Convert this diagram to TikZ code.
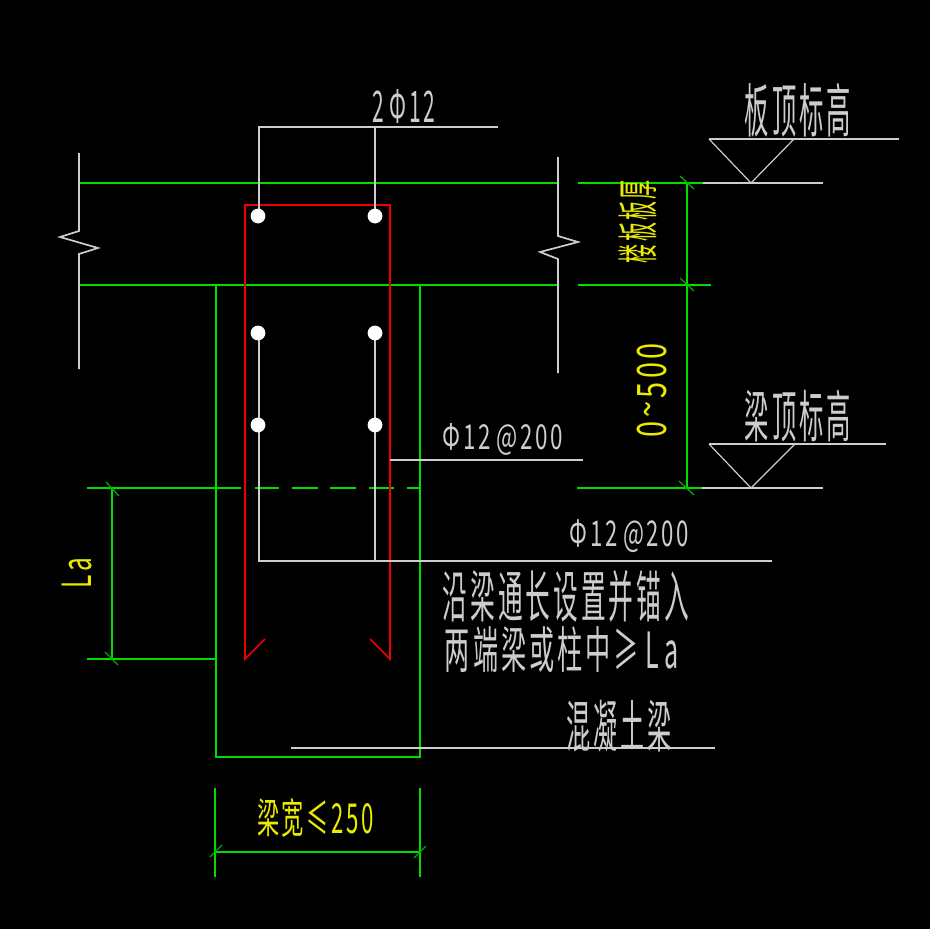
\documentclass[tikz,border=0pt]{standalone}
\usepackage{fontspec}
\usepackage{graphicx}
\setmainfont{Noto Sans CJK SC}
\definecolor{cadgreen}{RGB}{0,222,0}
\definecolor{cadtick}{RGB}{0,170,0}
\definecolor{cadred}{RGB}{240,0,0}
\definecolor{cadyellow}{RGB}{235,235,0}
\definecolor{cadwhite}{RGB}{205,205,205}
\newcommand{\fit}[3]{\resizebox*{#1pt}{#2pt}{#3}}
\newcommand{\gp}{\kern0.12em}
\tikzset{
  gline/.style={draw=cadgreen,line width=1.8pt},
  tickline/.style={draw=cadtick,line width=1.3pt},
  rline/.style={draw=cadred,line width=1.7pt},
  wline/.style={draw=cadwhite,line width=1.7pt},
  wthin/.style={draw=cadwhite,line width=1.2pt},
  bar/.style={fill=white,draw=none},
  wtext/.style={text=cadwhite,inner sep=0pt,outer sep=0pt},
  ytext/.style={text=cadyellow,inner sep=0pt,outer sep=0pt},
}
\begin{document}
\begin{tikzpicture}[x=1pt,y=-1pt]
\fill[black] (0,0) rectangle (930,929);
\useasboundingbox (0,0) rectangle (930,929);
% green lines
\draw[gline] (79,183) -- (558,183) (578,183) -- (703,183);
\draw[gline] (79,285) -- (558,285) (578,285) -- (711,285);
\draw[gline] (216,285) -- (216,757) -- (420,757) -- (420,285);
\draw[gline] (87,488) -- (241,488) (255,488) -- (279,488) (292,488) -- (318,488) (330,488) -- (356,488) (369,488) -- (394,488) (407,488) -- (420,488) (577,488) -- (702,488);
\draw[gline] (87,659) -- (216,659);
\draw[gline] (112,488) -- (112,659);
\draw[gline] (687,183) -- (687,488);
\draw[gline] (215,788) -- (215,877) (420,788) -- (420,877) (215,852) -- (420,852);
% ticks
\draw[tickline] (106,482) -- (119,496) (105,652) -- (118,665);
\draw[tickline] (680,176) -- (694,189) (680,278) -- (694,291) (679,481) -- (694,495);
\draw[tickline] (210,857) -- (222,845) (414,858) -- (426,846);
% red stirrup
\draw[rline] (265,639) -- (245,659) -- (245,205) -- (390,205) -- (390,659) -- (370,639);
% white
\draw[wline] (79,153) -- (79,231) -- (60,237) -- (98,248) -- (79,254) -- (79,369);
\draw[wline] (558,157) -- (558,236) -- (578,242) -- (540,252) -- (558,259) -- (558,373);
\draw[wline] (259,216) -- (259,127) -- (498,127) (375,127) -- (375,216);
\draw[wline] (259,333) -- (259,561) -- (772,561) (375,333) -- (375,561);
\draw[wline] (390,460) -- (583,460);
\draw[wline] (291,748) -- (715,748);
\draw[wline] (703,183) -- (823,183) (702,488) -- (823,488);
\draw[wline] (709,139) -- (899,139) (709,444) -- (886,444);
\draw[wthin] (709,139) -- (751,183) -- (794,139);
\draw[wthin] (709,444) -- (751,488) -- (795,444);
% bars
\foreach \bx/\by in {258/216,375/216,258/333,375/333,258/425,375/425}
  \fill[bar] (\bx,\by) circle (7.4);
% texts
\node[wtext] (t1) at (404,107) {\fit{62}{34}{2\gp\gp Φ\gp 1\gp 2}};
\node[wtext] (t2) at (798,110) {\fit{106}{54}{板\gp 顶\gp 标\gp 高}};
\node[ytext,rotate=90] (t3) at (638,221.5) {\fit{83}{38}{楼\gp 板\gp 板\gp 厚}};
\node[ytext,rotate=90] (t4) at (652,390) {\fit{94}{30}{0\gp\raisebox{0.1em}{\textasciitilde}\gp 5\gp 0\gp 0}};
\node[wtext] (t5) at (798,416) {\fit{106}{52}{梁\gp 顶\gp 标\gp 高}};
\node[wtext] (t6) at (503,439) {\fit{120}{32}{Φ\gp 1\gp 2\gp\gp @\gp 2\gp 0\gp 0}};
\node[wtext] (t7) at (629.5,536.5) {\fit{119}{33}{Φ\gp 1\gp 2\gp\gp @\gp 2\gp 0\gp 0}};
\node[wtext] (t8) at (566,596) {\fit{246}{52}{沿\gp 梁\gp 通\gp 长\gp 设\gp 置\gp 并\gp 锚\gp 入}};
\node[wtext] (t9) at (562,650) {\fit{234}{46}{两\gp 端\gp 梁\gp 或\gp 柱\gp 中\gp ≥\gp\gp L\gp\gp a}};
\node[wtext] (t10) at (619.5,726) {\fit{105}{52}{混\gp 凝\gp 土\gp 梁}};
\node[ytext] (t11) at (315.5,817.5) {\fit{117}{39}{梁\gp 宽\gp ≤\gp 2\gp 5\gp 0}};
\node[ytext,rotate=90] (t12) at (77,573) {\fit{30}{30}{L\gp a}};
\end{tikzpicture}
\end{document}
